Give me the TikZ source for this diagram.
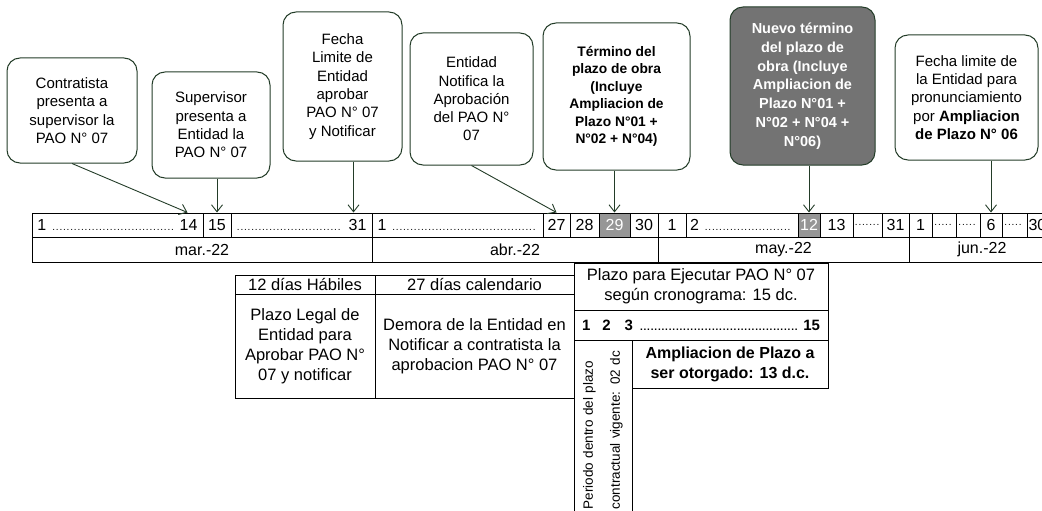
\documentclass[tikz,border=0pt]{standalone}
\usepackage{fontspec}
\setmainfont{Liberation Sans}
\usetikzlibrary{arrows.meta}

\definecolor{verdeosc}{RGB}{35,60,40}
\definecolor{grisglobo}{RGB}{115,115,115}
\definecolor{griscelda}{RGB}{150,150,150}

\tikzset{
  globo/.style={draw=verdeosc, line width=1pt, rounded corners=13pt, align=center,
    inner sep=2pt, font=\fontsize{15}{18.3}\selectfont},
  globonegrita/.style={globo, font=\fontsize{13.8}{17.5}\selectfont\bfseries},
  flecha/.style={draw=verdeosc, line width=0.9pt, -{Straight Barb[length=7pt,width=11pt]}},
  dia/.style={draw, line width=1pt, minimum height=24, inner sep=0pt,
    font=\fontsize{16}{18}\selectfont},
  mescelda/.style={draw, line width=1pt, minimum height=25, inner sep=0pt,
    font=\fontsize{16}{18}\selectfont},
  tabla/.style={draw, line width=1pt, align=center, inner sep=0pt,
    font=\fontsize{16.5}{20}\selectfont},
}

% puntos de relleno
\newcommand{\puntos}{\leavevmode\leaders\hbox to 3.6pt{\hss\fontsize{10}{10}\selectfont.\hss}\hfill\kern0pt}
% celda de dia: [opciones]{nombre}{x izq}{x der}{texto}
\newcommand{\celda}[5][]{\node[dia,#1,minimum width={#4-#3}] (#2) at ({(#3+#4)/2},225) {#5};}
% celda de mes: {nombre}{x izq}{x der}{texto}
\newcommand{\celdames}[4]{\node[mescelda,minimum width={#3-#2}] (#1) at ({(#2+#3)/2},249.5) {#4};}

\begin{document}
\begin{tikzpicture}[x=1pt,y=-1pt]
  \useasboundingbox (0,0) rectangle (1042,511);
  \clip (0,0) rectangle (1042,511);

  % Globos superiores
  \node[globo, minimum width=130, minimum height=105] (contratista) at (72,110.5)
    {Contratista\\presenta a\\supervisor la\\PAO N° 07};
  \node[globo, minimum width=118, minimum height=106] (supervisor) at (211,125)
    {Supervisor\\presenta a\\Entidad la\\PAO N° 07};
  \node[globo, minimum width=119, minimum height=149] (fechalim) at (342.5,86.5)
    {Fecha\\Limite de\\Entidad\\aprobar\\PAO N° 07\\y Notificar};
  \node[globo, minimum width=123, minimum height=132] (notifica) at (471.5,99)
    {Entidad\\Notifica la\\Aprobación\\del PAO N°\\07};
  \node[globonegrita, minimum width=147, minimum height=147] (termino) at (616.5,96.5)
    {Término del\\plazo de obra\\(Incluye\\Ampliacion de\\Plazo N°01 +\\N°02 + N°04)};
  \node[globonegrita, fill=grisglobo, text=white, minimum width=145, minimum height=158,
    font=\fontsize{14.5}{18.8}\selectfont\bfseries] (nuevo) at (802.5,86)
    {Nuevo término\\del plazo de\\obra (Incluye\\Ampliacion de\\Plazo N°01 +\\N°02 + N°04 +\\N°06)};
  \node[globo, minimum width=143, minimum height=125] (pronunc) at (966.5,97.5)
    {Fecha limite de\\la Entidad para\\pronunciamiento\\por \textbf{Ampliacion}\\\textbf{de Plazo N° 06}};

  % Linea de tiempo: dias
  \celda{d1m}{32}{203}{\makebox[160pt]{1\ \puntos\ 14}}
  \celda{d15}{203}{231}{15}
  \celda{d31m}{231}{372}{\makebox[130pt]{\puntos\ 31}}
  \celda{d1a}{372}{543}{\makebox[160pt]{1\ \puntos}}
  \celda{d27}{543}{570}{27}
  \celda{d28}{570}{599}{28}
  \celda[fill=griscelda,text=white]{d29}{599}{630}{29}
  \celda{d30}{630}{658}{30}
  \celda{d1y}{658}{686}{1}
  \celda{d2y}{686}{798}{\makebox[104pt]{2\ \puntos}}
  \celda[fill=griscelda,text=white]{d12}{798}{820}{12}
  \celda{d13}{820}{853}{13}
  \celda{dpy}{853}{882}{\makebox[26pt]{\puntos}}
  \celda{d31y}{882}{909}{31}
  \celda{d1j}{909}{932}{1}
  \celda{dpj}{932}{956}{\makebox[20pt]{\puntos}}
  \celda{dqj}{956}{980}{\makebox[20pt]{\puntos}}
  \celda{d6}{980}{1002}{6}
  \celda{drj}{1002}{1027}{\makebox[21pt]{\puntos}}
  \celda{d30j}{1027}{1060}{\makebox[30pt][l]{30}}

  % Linea de tiempo: meses
  \celdames{mar}{32}{372}{mar.-22}
  \celdames{abr}{372}{658}{abr.-22}
  \celdames{may}{658}{909}{may.-22}
  \celdames{jun}{909}{1055}{jun.-22}

  % Flechas
  \coordinate (p14) at ([xshift=-16pt]d1m.north east);
  \coordinate (p31) at ([xshift=-19pt]d31m.north east);
  \draw[flecha] (contratista.south) -- (p14);
  \draw[flecha] (supervisor.south -| d15.north) -- (d15.north);
  \draw[flecha] (fechalim.south -| p31) -- (p31);
  \draw[flecha] (notifica.south) -- (d27.north);
  \draw[flecha] (termino.south -| d29.north) -- (d29.north);
  \draw[flecha] (nuevo.south -| d12.north) -- (d12.north);
  \draw[flecha] (pronunc.south -| d6.north) -- (d6.north);

  % Cuadro de plazos de la Entidad
  \node[tabla, minimum width=140, minimum height=19] (habiles) at (305,284.5) {12 días Hábiles};
  \node[tabla, minimum width=199, minimum height=19] (calendario) at (474.5,284.5) {27 días calendario};
  \node[tabla, minimum width=140, minimum height=104] (legal) at (305,346)
    {Plazo Legal de\\Entidad para\\Aprobar PAO N°\\07 y notificar};
  \node[tabla, minimum width=199, minimum height=104] (demora) at (474.5,346)
    {Demora de la Entidad en\\Notificar a contratista la\\aprobacion PAO N° 07};

  % Cuadro de plazo para ejecutar
  \node[tabla, minimum width=254, minimum height=47] (ejecutar) at (701,286.5)
    {Plazo para Ejecutar PAO N° 07\\según cronograma: 15 dc.};
  \node[tabla, minimum width=254, minimum height=30, font=\fontsize{15}{18}\selectfont\bfseries]
    (numeros) at (701,325) {\makebox[238pt]{1\hspace{12pt}2\hspace{14pt}3\ \puntos\ 15}};
  \node[tabla, rotate=90, minimum width=175, minimum height=58, text width=164, align=left,
    font=\fontsize{13.5}{27}\selectfont] (periodo) at (603,427.5)
    {Periodo dentro del plazo\\contractual vigente: 02 dc};
  \node[tabla, minimum width=196, minimum height=48, font=\fontsize{16}{20}\selectfont\bfseries]
    (ampliacion) at (730,364) {Ampliacion de Plazo a\\ser otorgado: 13 d.c.};
\end{tikzpicture}
\end{document}
